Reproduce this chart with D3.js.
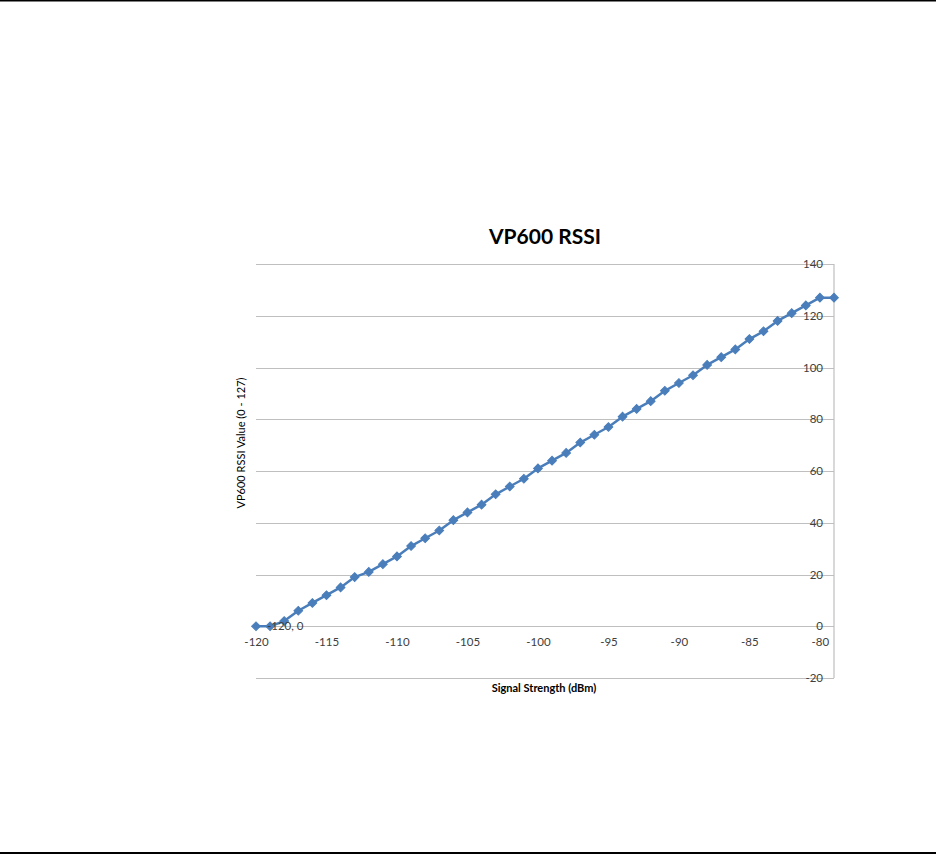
<!DOCTYPE html>
<html>
<head>
<meta charset="utf-8">
<script src="https://cdn.jsdelivr.net/npm/d3@7"></script>
<style>
  html, body { margin: 0; padding: 0; background: #fff; }
  svg { display: block; }
  text { font-family: Lato, "Open Sans", sans-serif; }
</style>
</head>
<body>
<svg id="chart" width="936" height="854"></svg>
<script>
// ---- data ----
const signalDbm = [-120,-119,-118,-117,-116,-115,-114,-113,-112,-111,-110,-109,-108,-107,-106,-105,-104,-103,-102,-101,-100,-99,-98,-97,-96,-95,-94,-93,-92,-91,-90,-89,-88,-87,-86,-85,-84,-83,-82,-81,-80,-79];
const rssiValue = [0,0,2,6,9,12,15,19,21,24,27,31,34,37,41,44,47,51,54,57,61,64,67,71,74,77,81,84,87,91,94,97,101,104,107,111,114,118,121,124,127,127];
const xTicks = [-120,-115,-110,-105,-100,-95,-90,-85,-80];
const yTicks = [-20,0,20,40,60,80,100,120,140];
const chartTitle = "VP600 RSSI";
const xTitle = "Signal Strength (dBm)";
const yTitle = "VP600 RSSI Value (0 - 127)";
const pointLabel = "-120, 0";

(function () {
const points = signalDbm.map((d, i) => ({x: d, y: rssiValue[i]}));
const fmt = d => String(d);   // plain hyphen-minus like the original

const svg = d3.select("#chart");

// page rules
svg.append("line").attr("x1", 0).attr("x2", 936).attr("y1", 0.75).attr("y2", 0.75)
  .attr("stroke", "#000").attr("stroke-width", 1.5);
svg.append("line").attr("x1", 0).attr("x2", 936).attr("y1", 853).attr("y2", 853)
  .attr("stroke", "#000").attr("stroke-width", 2);

const pL = 256, pR = 834, pT = 264, pB = 678;
const x = d3.scaleLinear().domain([-120, -79]).range([pL, pR]);
const y = d3.scaleLinear().domain([-20, 140]).range([pB, pT]);

// gridlines
const grid = svg.append("g").attr("transform", `translate(${pL},0)`)
  .call(d3.axisRight(y).tickValues(yTicks).tickSize(pR - pL).tickFormat(""));
grid.select(".domain").remove();
grid.selectAll("line").attr("stroke", "#bfbfbf").attr("stroke-width", 1).attr("shape-rendering", "crispEdges");

// right vertical axis line
svg.append("line").attr("x1", pR).attr("x2", pR).attr("y1", pT).attr("y2", pB)
  .attr("stroke", "#bfbfbf").attr("stroke-width", 1.2);

// y tick labels (left of right axis)
const yAxis = svg.append("g").attr("transform", `translate(${pR},0)`)
  .call(d3.axisLeft(y).tickValues(yTicks).tickSize(0).tickPadding(11).tickFormat(fmt));
yAxis.select(".domain").remove();
yAxis.selectAll("text").attr("font-size", 11.5).attr("fill", "#404040")
  .style("font-family", "Lato, sans-serif");

// x tick labels at y=0
const xAxis = svg.append("g").attr("transform", `translate(0,${y(0)})`)
  .call(d3.axisBottom(x).tickValues(xTicks).tickSize(0).tickPadding(12).tickFormat(fmt));
xAxis.select(".domain").remove();
xAxis.selectAll("text").attr("font-size", 11.5).attr("fill", "#404040")
  .style("font-family", "Lato, sans-serif");

// line
const line = d3.line().x(d => x(d.x)).y(d => y(d.y));
svg.append("path").datum(points).attr("d", line)
  .attr("fill", "none").attr("stroke", "#4a7ebb").attr("stroke-width", 2.5)
  .attr("stroke-linejoin", "round");

// markers
const sym = d3.symbol().type(d3.symbolSquare).size(38);
svg.append("g").selectAll("path").data(points).join("path")
  .attr("d", sym)
  .attr("transform", d => `translate(${x(d.x)},${y(d.y)}) rotate(45)`)
  .attr("fill", "#4a7ebb").attr("stroke", "#4a7ebb").attr("stroke-width", 1);

// data label
svg.append("text").attr("x", x(points[0].x) + 11).attr("y", y(points[0].y)).attr("dy", "0.35em")
  .attr("font-size", 11.5).attr("fill", "#404040").text(pointLabel);

// titles
svg.append("text").attr("x", 545).attr("y", 244).attr("text-anchor", "middle")
  .attr("font-size", 21).attr("font-weight", "bold").attr("fill", "#000").text(chartTitle);
svg.append("text").attr("x", 544).attr("y", 692).attr("text-anchor", "middle")
  .attr("font-size", 11).attr("font-weight", "bold").attr("fill", "#000").text(xTitle);
svg.append("text").attr("transform", "translate(245,443) rotate(-90)").attr("text-anchor", "middle")
  .attr("font-size", 11).attr("fill", "#000").text(yTitle);
})();
</script>
</body>
</html>
